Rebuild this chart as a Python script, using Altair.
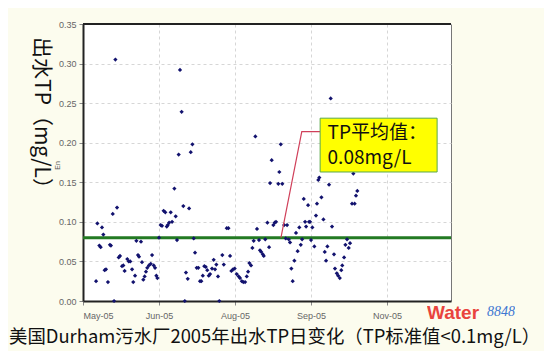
import altair as alt
import pandas as pd

# day offset from 1 May 2005, daily effluent TP (mg/L)
days = [7.9, 8.7, 9.9, 10.7, 11.5, 12.3, 13.1, 13.9, 15.1, 16.3, 16.9, 18.0, 18.8, 19.6, 20.6,
        21.6, 22.4, 23.6, 24.4, 25.2, 26.8, 27.7, 28.6, 29.7, 30.4, 31.5, 32.3, 33.3, 33.9, 35.1,
        35.7, 36.5, 37.3, 38.1, 38.9, 39.9, 41.0, 41.8, 42.8, 43.6, 44.4, 45.0, 46.0, 47.0, 47.8,
        48.8, 49.8, 50.7, 51.3, 52.1, 53.1, 53.9, 55.3, 56.1, 56.9, 57.9, 58.7, 59.7, 60.7, 61.6,
        62.3, 63.4, 64.2, 65.2, 66.2, 67.0, 67.8, 68.8, 69.8, 70.8, 71.6, 72.5, 73.4, 74.3, 75.2,
        76.1, 76.9, 78.1, 79.1, 79.9, 80.7, 81.7, 82.5, 84.3, 85.2, 87.0, 88.0, 89.0, 89.8, 90.8,
        91.8, 93.0, 94.2, 95.0, 96.1, 97.0, 98.1, 99.1, 99.9, 100.7, 101.7, 102.5, 103.3, 104.3,
        105.3, 106.5, 107.1, 107.9, 108.8, 109.4, 110.3, 111.6, 112.6, 113.2, 114.2, 115.2, 116.0,
        116.8, 118.2, 118.8, 119.7, 120.6, 121.7, 122.7, 123.5, 124.5, 125.3, 126.1, 126.9, 127.9,
        128.9, 129.9, 130.9, 131.8, 132.6, 133.6, 134.4, 135.0, 136.2, 136.8, 137.4, 138.0, 138.8,
        140.0, 141.0, 141.6, 142.4, 143.0, 144.3, 145.5, 146.3, 147.1, 147.9, 148.9, 149.9, 150.7,
        151.9, 152.5, 153.6, 154.4, 155.4, 156.3, 156.9, 158.0, 158.8, 159.8, 160.8, 161.6, 162.8,
        163.6, 164.4, 165.2, 166.0]
tp = [0.025, 0.098, 0.070, 0.068, 0.093, 0.084, 0.039, 0.040, 0.024, 0.071, 0.070, 0.110, 0.000, 0.305, 0.118,
      0.055, 0.057, 0.044, 0.045, 0.038, 0.053, 0.050, 0.050, 0.040, 0.024, 0.032, 0.076, 0.058, 0.056, 0.075,
      0.049, 0.027, 0.031, 0.037, 0.042, 0.045, 0.047, 0.058, 0.045, 0.042, 0.032, 0.029, 0.080, 0.096, 0.095,
      0.114, 0.112, 0.094, 0.096, 0.099, 0.112, 0.100, 0.142, 0.107, 0.077, 0.185, 0.292, 0.239, 0.120, 0.000,
      0.036, 0.028, 0.117, 0.188, 0.198, 0.079, 0.061, 0.042, 0.042, 0.025, 0.025, 0.032, 0.044, 0.043, 0.039,
      0.032, 0.034, 0.041, 0.052, 0.040, 0.046, 0.031, 0.000, 0.058, 0.046, 0.092, 0.092, 0.057, 0.038, 0.040,
      0.041, 0.034, 0.031, 0.029, 0.025, 0.024, 0.024, 0.031, 0.037, 0.048, 0.045, 0.067, 0.076, 0.208,
      0.091, 0.077, 0.064, 0.062, 0.059, 0.057, 0.078, 0.099, 0.068, 0.149, 0.178, 0.096, 0.099,
      0.100, 0.148, 0.163, 0.198, 0.148, 0.096, 0.079, 0.096, 0.078, 0.074, 0.041, 0.025, 0.051,
      0.086, 0.063, 0.093, 0.071, 0.078, 0.129, 0.100, 0.094, 0.121, 0.100, 0.100, 0.077, 0.093,
      0.069, 0.108, 0.123, 0.153, 0.156, 0.131, 0.103, 0.062, 0.051, 0.069, 0.147, 0.256, 0.094,
      0.059, 0.041, 0.035, 0.032, 0.029, 0.039, 0.045, 0.055, 0.071, 0.078, 0.067, 0.073, 0.123,
      0.161, 0.123, 0.133, 0.139]

tick_days = [0, 46, 92, 138, 184]
tick_labels = ["May-05", "Jun-05", "Aug-05", "Sep-05", "Nov-05"]
y_ticks = [0.0, 0.05, 0.10, 0.15, 0.20, 0.25, 0.30, 0.35]
mean_tp = 0.08

x_domain = [0, 222.7]
y_domain = [0, 0.35]

df = pd.DataFrame({"day": days, "tp": tp})

label_arr = "[" + ",".join("'%s'" % t for t in tick_labels) + "]"

xs = alt.Scale(domain=x_domain, nice=False, zero=False)
ys = alt.Scale(domain=y_domain, nice=False)

gray_font = "Liberation Sans Narrow, Liberation Sans, sans-serif"
cjk = "Noto Sans CJK SC"

x_axis = alt.Axis(title=None, values=tick_days, labelExpr=label_arr + "[round(datum.value/46)]",
                  grid=True, gridDash=[3, 3], gridColor="#d6d6d6", domainColor="#222",
                  domainWidth=2, tickSize=4, tickColor="#888", labelFont=gray_font,
                  labelFontSize=9, labelColor="#666", labelPadding=6)
y_axis = alt.Axis(title="En", values=y_ticks, format=".2f", grid=True, gridDash=[3, 3],
                  gridColor="#d6d6d6", domainColor="#222", domainWidth=2, tickSize=4,
                  tickColor="#888", labelFont=gray_font, labelFontSize=9, labelColor="#666",
                  labelPadding=3, titleFontSize=7, titleFont=gray_font, titleColor="#555",
                  titleFontWeight="normal", titleX=-23, titleY=141, labelOverlap=False)


def X(field):
    return alt.X(field, scale=xs, axis=x_axis)


def Y(field):
    return alt.Y(field, scale=ys, axis=y_axis)


points = alt.Chart(df).mark_point(shape="diamond", filled=True, size=18, color="#12126e", opacity=1).encode(
    x=X("day:Q"), y=Y("tp:Q"),
)

mean_df = pd.DataFrame({"tp": [mean_tp]})
mean_line = alt.Chart(mean_df).mark_rule(color="#237a23", strokeWidth=3).encode(
    y=Y("tp:Q")
)

top_border = alt.Chart(mean_df).mark_rule(color="#222", strokeWidth=2).encode(
    y=alt.value(0), x=alt.value(0), x2=alt.value(368)
)

# annotation leader line (data coords)
lead_df = pd.DataFrame({"day": [119.8, 132.4, 143.5], "tp": [mean_tp, 0.214, 0.214], "o": [0, 1, 2]})
leader = alt.Chart(lead_df).mark_line(color="#d0405a", strokeWidth=1.2).encode(
    x=X("day:Q"), y=Y("tp:Q"), order="o:Q"
)

box_df = pd.DataFrame({"day": [143.5], "d2": [214.3], "tp": [0.231], "t2": [0.163]})
box = alt.Chart(box_df).mark_rect(fill="#ffff00", stroke="#5aa84a", strokeWidth=1).encode(
    x=X("day:Q"), x2="d2:Q", y=Y("tp:Q"), y2="t2:Q"
)

ann_df = pd.DataFrame({"day": [148.0, 148.0], "tp": [0.212, 0.181], "t": ["TP平均值：", "0.08mg/L"]})
ann = alt.Chart(ann_df).mark_text(align="left", baseline="middle", fontSize=19, font=cjk, color="#111").encode(
    x=X("day:Q"), y=Y("tp:Q"), text="t:N"
)

ylab = alt.Chart(mean_df).mark_text(angle=90, fontSize=21, font=cjk, color="#111",
                                    align="center", baseline="middle").encode(
    x=alt.value(-42), y=alt.value(94), text=alt.value("出水TP（mg/L）")
)

caption = alt.Chart(mean_df).mark_text(align="left", baseline="middle", fontSize=18.4, font=cjk,
                                       color="#111").encode(
    x=alt.value(-74), y=alt.value(313),
    text=alt.value("美国Durham污水厂2005年出水TP日变化（TP标准值<0.1mg/L）")
)

wm1 = alt.Chart(mean_df).mark_text(align="left", baseline="middle", fontSize=19, fontWeight="bold",
                                   font="Liberation Sans", color="#e8302a", opacity=0.9).encode(
    x=alt.value(344), y=alt.value(289), text=alt.value("Water")
)
wm2 = alt.Chart(mean_df).mark_text(align="left", baseline="middle", fontSize=14, fontStyle="italic",
                                   font="Liberation Serif", color="#2a6ad0", opacity=0.9).encode(
    x=alt.value(404), y=alt.value(288), text=alt.value("8848")
)

chart = alt.layer(mean_line, top_border, points, leader, box, ann, ylab, caption, wm1, wm2).properties(
    width=368, height=277,
    autosize=alt.AutoSizeParams(type="none"),
    padding={"left": 75, "top": 16, "right": 93, "bottom": 50},
    background="#fcfcee",
).configure_view(fill="white", stroke="#777", strokeWidth=1)

chart.save("out.html", embed_options={"renderer": "svg", "actions": False})
